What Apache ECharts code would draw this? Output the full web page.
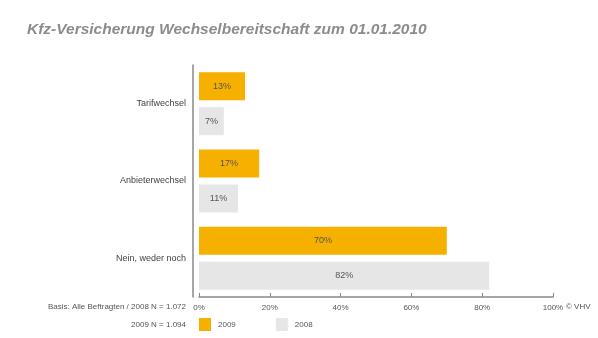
<!DOCTYPE html>
<html><head><meta charset="utf-8">
<script src="https://cdn.jsdelivr.net/npm/echarts@6/dist/echarts.min.js"></script>
<style>html,body{margin:0;padding:0;background:#fff}#c{width:598px;height:338px}</style>
</head><body><div id="c"></div>
<script>
const categories = ['Tarifwechsel', 'Anbieterwechsel', 'Nein, weder noch'];
const values2009 = [13, 17, 70];
const values2008 = [7, 11, 82];
const tickValues = [0, 20, 40, 60, 80, 100];
const FONT = 'Liberation Sans';
const chart = echarts.init(document.getElementById('c'));
chart.setOption({
  backgroundColor: '#fff',
  animation: false,
  textStyle: { fontFamily: FONT },
  title: {
    text: 'Kfz-Versicherung Wechselbereitschaft zum 01.01.2010',
    left: 22, top: 17,
    textStyle: { fontFamily: FONT, fontSize: 15.5, fontWeight: 'bold', fontStyle: 'italic', color: '#8c8c8c' }
  },
  legend: {
    left: 199, top: 318, padding: 0, itemWidth: 12, itemHeight: 13, itemGap: 40,
    data: ['2009', '2008'], icon: 'rect',
    textStyle: { fontFamily: FONT, fontSize: 8, color: '#555', padding: [0, 0, 0, 2] }
  },
  grid: { left: 199, right: 45, top: 65, bottom: 41 },
  xAxis: {
    type: 'value', min: 0, max: 100, interval: 20,
    axisLine: { show: true, lineStyle: { color: '#888', width: 1.5 } },
    axisTick: { show: true, inside: true, length: 4, lineStyle: { color: '#888' } },
    splitLine: { show: false },
    axisLabel: { formatter: v => tickValues.includes(v) ? v + '%' : '', fontFamily: FONT, fontSize: 8, color: '#555', margin: 7 }
  },
  yAxis: {
    type: 'category', data: categories, inverse: true, offset: 6,
    axisLine: { show: true, onZero: false, lineStyle: { color: '#888', width: 1.5 } },
    axisTick: { show: false },
    axisLabel: { fontFamily: FONT, fontSize: 9, color: '#444', margin: 7 }
  },
  series: [
    { name: '2009', type: 'bar', data: values2009, barWidth: 28, barGap: '25%',
      itemStyle: { color: '#F6B000' },
      label: { show: true, position: 'inside', formatter: '{c}%', fontFamily: FONT, fontSize: 9, color: '#555' } },
    { name: '2008', type: 'bar', data: values2008, barWidth: 28,
      itemStyle: { color: '#E6E6E6' },
      label: { show: true, position: 'inside', formatter: '{c}%', fontFamily: FONT, fontSize: 9, color: '#555' } }
  ],
  graphic: [
    { type: 'text', right: 412, top: 303, style: { text: 'Basis: Alle Beftragten / 2008 N = 1.072', fontFamily: FONT, fontSize: 8, fill: '#555', textAlign: 'right' } },
    { type: 'text', right: 412, top: 321, style: { text: '2009 N = 1.094', fontFamily: FONT, fontSize: 8, fill: '#555', textAlign: 'right' } },
    { type: 'text', left: 566, top: 303, style: { text: '© VHV', fontFamily: FONT, fontSize: 8, fill: '#555' } }
  ]
});
</script></body></html>
